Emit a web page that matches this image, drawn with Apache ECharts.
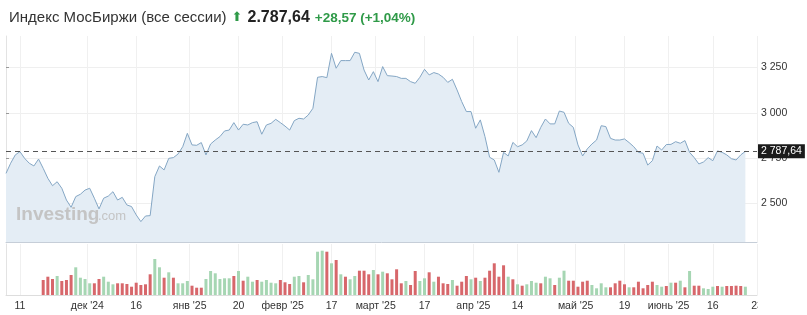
<!DOCTYPE html>
<html><head><meta charset="utf-8">
<script src="https://cdn.jsdelivr.net/npm/echarts@6/dist/echarts.min.js"></script>
<style>html,body{margin:0;padding:0;background:#fff}#c{width:807px;height:315px}</style>
</head><body><div id="c"></div>
<script>
// Trading-day index 0..159 (daily closes)
const lineValues = [
2666,2722,2768,2786,2749,2722,2707,2745,2694,2639,
2598,2620,2584,2519,2479,2538,2551,2574,2584,2529,
2470,2529,2541,2565,2519,2534,2492,2483,2437,2400,
2431,2433,2648,2707,2685,2749,2753,2773,2813,2887,
2823,2821,2836,2768,2828,2850,2869,2900,2905,2946,
2905,2937,2933,2946,2951,2882,2933,2942,2964,2946,
2927,2905,2957,2970,2966,2988,3025,3196,3200,3194,
3328,3246,3288,3288,3288,3334,3328,3236,3181,3227,
3172,3255,3205,3203,3200,3190,3190,3172,3163,3196,
3240,3209,3222,3214,3196,3168,3185,3126,3062,3007,
3007,2915,2961,2869,2755,2740,2672,2782,2762,2837,
2813,2823,2845,2902,2863,2920,2966,2939,2939,3010,
3003,2942,2920,2823,2762,2801,2828,2850,2929,2924,
2859,2850,2850,2856,2836,2813,2782,2777,2712,2736,
2817,2795,2825,2826,2841,2832,2847,2782,2753,2718,
2729,2753,2736,2790,2782,2768,2747,2740,2768,2787.64
];
// Volume (relative units) starts at trading-day index 8
const volumeStart = 8;
const volumeValues = [
15.0,18.3,16.0,19.0,14.0,15.0,20.0,27.7,17.3,16.0,
11.7,11.7,16.0,18.3,13.3,10.7,11.7,11.7,11.0,8.3,
12.3,10.0,10.7,20.7,36.0,27.7,17.3,22.7,17.3,11.7,
11.7,14.0,9.3,7.3,7.3,16.0,24.0,21.7,16.0,16.7,
16.7,19.0,24.0,14.3,18.3,13.3,15.0,13.3,15.0,
12.3,11.7,15.0,12.7,11.0,18.3,19.0,12.7,20.0,15.7,
43.3,44.3,43.3,31.7,35.0,20.7,18.3,15.7,19.0,24.3,
24.3,20.7,25.0,20.7,23.3,21.7,15.7,25.7,11.7,14.0,
10.0,24.0,14.0,16.7,22.7,13.3,18.3,11.7,11.0,15.0,
9.3,13.3,19.0,15.7,17.3,14.0,17.3,24.3,31.7,18.3,
29.7,18.3,
15.7,10.7,9.3,10.7,14.0,12.3,11.7,18.3,16.7,10.0,
17.3,24.3,14.3,14.3,8.3,13.3,14.3,10.0,6.7,11.7,
7.7,7.7,11.7,14.3,10.7,7.7,7.7,13.3,6.7,10.0,
13.3,10.0,8.3,9.0,12.3,12.3,14.3,7.7,24.0,9.3,
9.3,6.7,6.0,8.3,9.0,8.3,9.0,9.0,9.3,9.0,8.3
];
const volumeDirs = (
"RRRGRRRGGGGRRGGGRRRRRRRRGGRGRGGGRRRGGGGGGRGRGGRG" + "G" +
"GGRRRGGRGGGGRGRGRGGRRRGRGRRRRGRRGGRGRRRGRRRGRGRRRRRGR" +
"GRGGGRGGRGGRRRRRGGGGRRRRGRRRRRGGRGRGRGRRGGGRGRRRRGG"
).split('');
const xLabelPos  = [3, 17.5, 28, 39.5, 50, 59.5, 70, 79.5, 90, 100.5, 110, 122.5, 133, 142.5, 152, 161.5];
const xLabelText = ['11', "дек '24", '16', "янв '25", '20', "февр '25", '17', "март '25", '17', "апр '25", '14', "май '25", '19', "июнь '25", '16', '23'];
const yTicks = [2500, 2750, 3000, 3250];
const lastPrice = 2787.64;

const sp = s => s.replace(/\B(?=(\d{3})+(?!\d))/g, ' ');
const fmtPrice = v => { const p = v.toFixed(2).split('.'); return sp(p[0]) + ',' + p[1]; };
const FONT = 'Liberation Sans, Arial, sans-serif';

const chart = echarts.init(document.getElementById('c'));
chart.setOption({
  animation: false,
  textStyle: { fontFamily: FONT },
  title: {
    left: 4, top: 4,
    text: '{a|Индекс МосБиржи (все сессии)} {u|⬆} {b|2.787,64} {c|+28,57 (+1,04%)}',
    textStyle: { fontWeight: 'normal', rich: {
      a: { fontSize: 15, fontWeight: 'normal', color: '#333', fontFamily: FONT },
      u: { fontSize: 13, fontWeight: 'normal', color: '#2f9a48', fontFamily: 'DejaVu Sans' },
      b: { fontSize: 16, fontWeight: 'bold', color: '#222', fontFamily: FONT },
      c: { fontSize: 13.5, fontWeight: 'bold', color: '#2f9a48', fontFamily: FONT }
    } }
  },
  grid: [
    { left: 6, right: 50, top: 36, bottom: 73 },
    { left: 6, right: 50, top: 244, bottom: 20 }
  ],
  xAxis: [
    { gridIndex: 0, type: 'value', min: 0, max: 161.5,
      axisLine: { show: true, lineStyle: { color: '#c6ced8' } },
      axisTick: { show: false, customValues: xLabelPos },
      axisLabel: { show: false },
      splitLine: { show: true, lineStyle: { color: '#f0f0f0' } } },
    { gridIndex: 1, type: 'value', min: 0, max: 161.5,
      axisLine: { show: true, lineStyle: { color: '#dddddd' } },
      axisTick: { show: false, customValues: xLabelPos },
      axisLabel: { show: true, customValues: xLabelPos, color: '#333', fontSize: 10.5, margin: 6,
        formatter: v => xLabelText[xLabelPos.indexOf(v)] },
      splitLine: { show: true, lineStyle: { color: '#f0f0f0' } } }
  ],
  yAxis: [
    { gridIndex: 0, type: 'value', position: 'right', min: 2287.6, max: 3423.7,
      axisLine: { show: true, lineStyle: { color: '#e3e3e3' } },
      axisTick: { show: true, length: 3, customValues: yTicks, lineStyle: { color: '#999' } },
      axisLabel: { show: true, customValues: yTicks, color: '#333', fontSize: 10.5, margin: 4,
        formatter: v => sp(String(v)) },
      splitLine: { show: true, lineStyle: { color: '#efefef' } } },
    { gridIndex: 1, type: 'value', position: 'right', min: 0, max: 51,
      axisLine: { show: true, lineStyle: { color: '#e3e3e3' } },
      axisTick: { show: false }, axisLabel: { show: false }, splitLine: { show: false } }
  ],
  series: [
    { type: 'line', xAxisIndex: 0, yAxisIndex: 0,
      data: lineValues.map((v, i) => [i, v]),
      showSymbol: false, symbol: 'none',
      lineStyle: { color: '#84a6c4', width: 1 },
      areaStyle: { color: '#e4edf5', opacity: 1, origin: 'start' },
      markLine: { silent: true, symbol: ['none', 'none'],
        lineStyle: { color: '#555', type: [5, 4], width: 1 },
        label: { position: 'end', distance: 1, formatter: () => fmtPrice(lastPrice),
          backgroundColor: '#1b1b1b', color: '#fff', fontSize: 10.5, padding: [2, 3, 1, 3] },
        data: [{ yAxis: lastPrice }] } },
    { type: 'bar', xAxisIndex: 1, yAxisIndex: 1, barWidth: 3,
      data: volumeValues.map((v, k) => [k + volumeStart, v]),
      itemStyle: { color: p => volumeDirs[p.dataIndex] === 'G' ? '#a6d6b3' : '#d7676b' } }
  ],
  graphic: [
    { type: 'text', left: 16, top: 205, z: 50, silent: true,
      style: { text: 'Investing', font: 'bold 19px ' + FONT, fill: '#c4c4c4' } },
    { type: 'text', left: 98, top: 210, z: 50, silent: true,
      style: { text: '.com', font: '13px ' + FONT, fill: '#c4c4c4' } },
    { type: 'rect', left: 758, top: 298, z: 100, silent: true,
      shape: { width: 49, height: 17 }, style: { fill: '#fff' } }
  ]
});
</script></body></html>
